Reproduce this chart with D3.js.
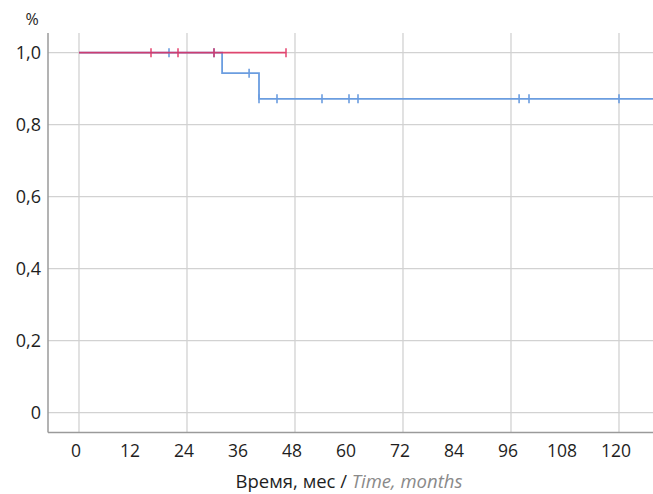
<!DOCTYPE html>
<html><head><meta charset="utf-8">
<script src="https://cdn.jsdelivr.net/npm/d3@7/dist/d3.min.js"></script>
<style>body{margin:0;background:#fff}svg{display:block;font-family:"Open Sans","Noto Sans",sans-serif}</style>
</head><body>
<svg id="c" width="653" height="494"></svg>
<script>
const xTicks = [0,12,24,36,48,60,72,84,96,108,120];
const xGrid = [0,24,48,72,96,120];
const yTicks = [0,0.2,0.4,0.6,0.8,1.0];
const yLabels = ["0","0,2","0,4","0,6","0,8","1,0"];
// Kaplan-Meier steps: [time, survival]
const blueSteps = [[0,1.0],[31.8,0.943],[40,0.872],[127.6,0.872]];
const blueCensor = [20,30,37.8,40,44,54,60,62,97.8,100,120];
const redSteps = [[0,1.0],[46,1.0]];
const redCensor = [16,22,30,46];

const svg = d3.select("#c");
const x = d3.scaleLinear().domain([0,120]).range([79,619]);
const y = d3.scaleLinear().domain([0,1]).range([412.7,52.7]);
const L = 48, R = 653, T = 33, B = 432.5;

svg.append("g").selectAll("line").data(yTicks).join("line")
  .attr("x1",L).attr("x2",R).attr("y1",d=>y(d)).attr("y2",d=>y(d))
  .attr("stroke","#d2d2d2").attr("stroke-width",1.3);
svg.append("g").selectAll("line").data(xGrid).join("line")
  .attr("x1",d=>x(d)).attr("x2",d=>x(d)).attr("y1",T).attr("y2",B)
  .attr("stroke","#d2d2d2").attr("stroke-width",1.3);
svg.append("line").attr("x1",L).attr("x2",L).attr("y1",T).attr("y2",B).attr("stroke","#9a9a9a").attr("stroke-width",1.5);
svg.append("line").attr("x1",L).attr("x2",R).attr("y1",B).attr("y2",B).attr("stroke","#9a9a9a").attr("stroke-width",1.5);

svg.append("g").selectAll("text").data(yTicks).join("text")
  .attr("x",41).attr("y",d=>y(d)).attr("dy","0.36em").attr("text-anchor","end")
  .attr("font-size",18).attr("fill","#1e1e1e").text((d,i)=>yLabels[i]);
svg.append("text").attr("x",32).attr("y",25).attr("text-anchor","middle").attr("font-size",16).attr("fill","#1e1e1e").text("%");

svg.append("g").selectAll("text").data(xTicks).join("text")
  .attr("x",d=>x(d)-3).attr("y",457).attr("text-anchor","middle")
  .attr("font-size",17.5).attr("fill","#1e1e1e").text(d=>d);

const t = svg.append("text").attr("x",349).attr("y",488).attr("text-anchor","middle").attr("font-size",18.5).attr("fill","#1e1e1e");
t.append("tspan").text("Время, мес / ");
t.append("tspan").attr("font-style","italic").attr("fill","#8a8a8a").text("Time, months");

const line = d3.line().x(d=>x(d[0])).y(d=>y(d[1])).curve(d3.curveStepAfter);
function stepAt(steps, t){ let v = steps[0][1]; for (const s of steps) if (s[0] <= t) v = s[1]; return v; }

function draw(steps, censor, color, op){
  const g = svg.append("g").attr("opacity",op);
  g.append("path").datum(steps).attr("d",line).attr("fill","none").attr("stroke",color).attr("stroke-width",1.8);
  g.selectAll("line.c").data(censor).join("line")
    .attr("x1",d=>x(d)).attr("x2",d=>x(d))
    .attr("y1",d=>y(stepAt(steps,d))-4.5).attr("y2",d=>y(stepAt(steps,d))+4.5)
    .attr("stroke",color).attr("stroke-width",1.6);
}
draw(blueSteps, blueCensor, "#6b9de0", 1);
draw(redSteps, redCensor, "#e2285a", 0.82);
</script>
</body></html>
